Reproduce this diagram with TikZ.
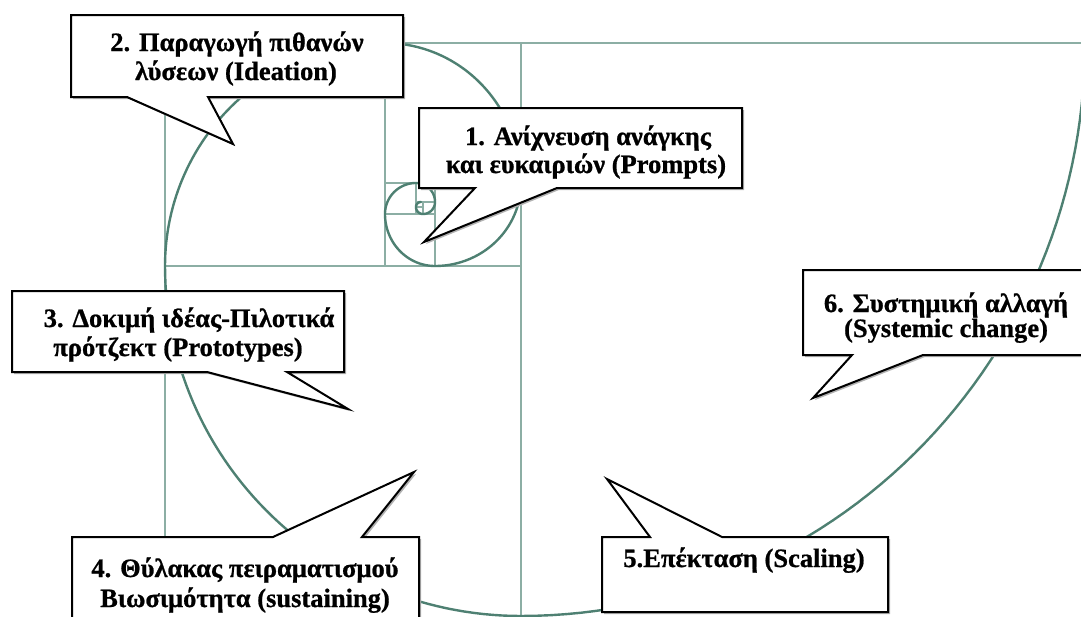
\documentclass[tikz,border=0pt]{standalone}
\usepackage{fontspec}
\setmainfont{Liberation Serif}[BoldFont={Liberation Serif Bold}, BoldFeatures={FakeBold=0.8}]
\definecolor{spiralc}{RGB}{78,128,114}
\definecolor{gridc}{RGB}{140,174,164}
\newcommand\sparc[6]{\draw[spiral] plot[domain=#5:#6, samples=60] ({#1+#3*cos(\x)},{#2+#4*sin(\x)});}
\begin{document}
\begin{tikzpicture}[x=1pt,y=-1pt,
  grid/.style={draw=gridc, line width=1.4pt},
  spiral/.style={draw=spiralc, line width=2.4pt, line cap=round},
  callout/.style={draw=black, fill=white, line width=2pt, line join=miter},
  shade/.style={fill=black!30, draw=none},
  lbl/.style={anchor=base, inner sep=0pt, font=\bfseries\fontsize{26.5}{30}\selectfont}]
\useasboundingbox (0,0) rectangle (1081,616);
\clip (0,0) rectangle (1081,616);
% grid of squares
\draw[grid] (165,43) -- (1100,43);
\draw[grid] (165,43) -- (165,620);
\draw[grid] (521,43) -- (521,620);
\draw[grid] (165,266) -- (521,266);
\draw[grid] (385,43) -- (385,266);
\draw[grid] (385,183) -- (521,183);
\draw[grid] (435,183) -- (435,266);
\draw[grid] (385,214) -- (435,214);
\draw[grid] (416,183) -- (416,214);
\draw[grid] (416,202) -- (435,202);
\draw[grid] (423,202) -- (423,214);
\draw[grid] (416,207) -- (423,207);
% spiral
\sparc{521}{43}{564}{573}{0}{90}
\sparc{521}{266}{356}{350}{90}{180}
\sparc{385}{266}{220}{223}{180}{270}
\sparc{385}{183}{136}{140}{270}{360}
\sparc{435}{183}{86}{83}{0}{90}
\sparc{435}{214}{50}{52}{90}{180}
\sparc{416}{214}{31}{31}{180}{270}
\sparc{416}{202}{19}{19}{270}{360}
\sparc{423}{202}{12}{12}{0}{90}
\sparc{423}{207}{7}{7}{90}{180}
\sparc{421}{207}{5}{5}{180}{270}
% callouts
\begin{scope}[shift={(2,2)}]
\fill[shade] (419,108) -- (742,108) -- (742,188) -- (557,188) -- (424,242) -- (475,188) -- (419,188) -- cycle;
\fill[shade] (71,15) -- (403,15) -- (403,97) -- (208,97) -- (233,144) -- (127,97) -- (71,97) -- cycle;
\fill[shade] (12,291) -- (344,291) -- (344,372) -- (287,372) -- (348,409) -- (207,372) -- (12,372) -- cycle;
\fill[shade] (72,537) -- (273,537) -- (414,472) -- (362,537) -- (419,537) -- (419,630) -- (72,630) -- cycle;
\fill[shade] (602,537) -- (650,537) -- (607,479) -- (722,537) -- (888,537) -- (888,612) -- (602,612) -- cycle;
\fill[shade] (803,270) -- (1095,270) -- (1095,355) -- (923,355) -- (813,398) -- (852,355) -- (803,355) -- cycle;
\end{scope}
\draw[callout] (419,108) -- (742,108) -- (742,188) -- (557,188) -- (424,242) -- (475,188) -- (419,188) -- cycle;
\draw[callout] (71,15) -- (403,15) -- (403,97) -- (208,97) -- (233,144) -- (127,97) -- (71,97) -- cycle;
\draw[callout] (12,291) -- (344,291) -- (344,372) -- (287,372) -- (348,409) -- (207,372) -- (12,372) -- cycle;
\draw[callout] (72,537) -- (273,537) -- (414,472) -- (362,537) -- (419,537) -- (419,630) -- (72,630) -- cycle;
\draw[callout] (602,537) -- (650,537) -- (607,479) -- (722,537) -- (888,537) -- (888,612) -- (602,612) -- cycle;
\draw[callout] (803,270) -- (1095,270) -- (1095,355) -- (923,355) -- (813,398) -- (852,355) -- (803,355) -- cycle;
% texts
\node[lbl] (t1a) at (588,145) {1. Ανίχνευση ανάγκης};
\node[lbl] (t1b) at (586,173) {και ευκαιριών (Prompts)};
\node[lbl] (t2a) at (237,51) {2. Παραγωγή πιθανών};
\node[lbl] (t2b) at (236,80) {λύσεων (Ideation)};
\node[lbl] (t3a) at (189,327) {3. Δοκιμή ιδέας-Πιλοτικά};
\node[lbl] (t3b) at (178,356) {πρότζεκτ (Prototypes)};
\node[lbl] (t4a) at (245,577) {4. Θύλακας πειραματισμού};
\node[lbl] (t4b) at (245,607) {Βιωσιμότητα (sustaining)};
\node[lbl] (t5) at (744,567) {5.Επέκταση (Scaling)};
\node[lbl] (t6a) at (946,312) {6. Συστημική αλλαγή};
\node[lbl] (t6b) at (946,337) {(Systemic change)};
\end{tikzpicture}
\end{document}
